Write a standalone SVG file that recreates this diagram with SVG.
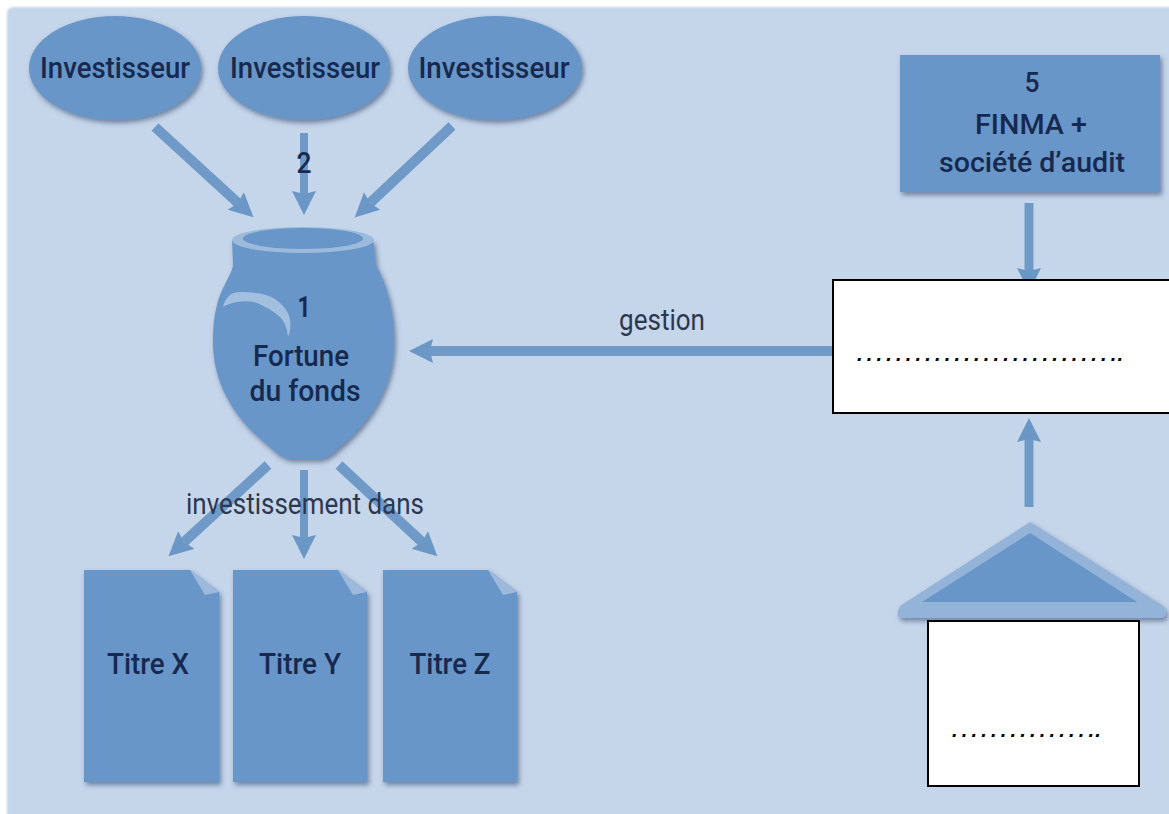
<svg xmlns="http://www.w3.org/2000/svg" width="1169" height="814" viewBox="0 0 1169 814">
<style>
.n{fill:#6896c8}
.t{font-family:Roboto,"Liberation Sans",Arial,sans-serif;font-weight:500;fill:#17294f;text-anchor:middle}
.r{font-family:Roboto,"Liberation Sans",Arial,sans-serif;fill:#2b3850;text-anchor:middle}
.c{stroke:#6f9ac8;stroke-width:10;fill:none}
.h{fill:#6b97c7}
.w{fill:#fff;stroke:#000;stroke-width:2}
.d{font-family:"Liberation Sans",Arial,sans-serif;font-style:italic;font-weight:700;font-size:20px;fill:#000;letter-spacing:4.2px}
</style>
<defs>
<filter id="s" x="-15%" y="-15%" width="130%" height="130%"><feDropShadow dx="2" dy="3" stdDeviation="2.5" flood-color="#3d5478" flood-opacity=".65"/></filter>
<filter id="b" x="-5%" y="-5%" width="110%" height="110%"><feGaussianBlur stdDeviation=".8"/></filter>
<marker id="a" markerUnits="userSpaceOnUse" markerWidth="30" markerHeight="30" refX="3" refY="12" orient="auto"><path class="h" d="M0 0L24 12L0 24L3 12Z"/></marker>
</defs>
<rect width="1169" height="814" fill="#fff"/>
<rect x="7" y="7" width="1170" height="815" rx="6" fill="#c5d5ea" filter="url(#b)"/>
<g id="connectors">
<path class="c" marker-end="url(#a)" d="M155 127L238 203"/>
<path class="c" marker-end="url(#a)" style="stroke-width:8" d="M304 133V194"/>
<path class="c" marker-end="url(#a)" d="M452 126L370 203"/>
<path class="c" marker-end="url(#a)" d="M832 351H430"/>
<path class="c" marker-end="url(#a)" d="M268 465L184 542"/>
<path class="c" marker-end="url(#a)" style="stroke-width:8" d="M304 470V538"/>
<path class="c" marker-end="url(#a)" d="M339 465L422 542"/>
<path class="c" marker-end="url(#a)" style="stroke-width:9" d="M1029 203V271"/>
<path class="c" marker-end="url(#a)" style="stroke-width:9" d="M1029 507V439"/>
</g>
<g id="investisseur-1"><ellipse class="n" cx="115" cy="68" rx="86" ry="52" filter="url(#s)"/><text class="t" x="115" y="78" font-size="30" textLength="150" lengthAdjust="spacingAndGlyphs">Investisseur</text></g>
<g id="investisseur-2"><ellipse class="n" cx="304" cy="68" rx="86" ry="52" filter="url(#s)"/><text class="t" x="305" y="78" font-size="30" textLength="150" lengthAdjust="spacingAndGlyphs">Investisseur</text></g>
<g id="investisseur-3"><ellipse class="n" cx="495" cy="68" rx="87" ry="52" filter="url(#s)"/><text class="t" x="494" y="78" font-size="30" textLength="151" lengthAdjust="spacingAndGlyphs">Investisseur</text></g>
<text class="t" x="304" y="173" font-size="30" textLength="15" lengthAdjust="spacingAndGlyphs">2</text>
<g id="fortune">
<path class="n" filter="url(#s)" d="M232 240L233 263C234 272 222 285 217 305C213 320 213 335 213 345C214 385 235 420 270 447C278 455 284 459 292 459H318C328 459 334 452 342 445C372 420 393 385 394 345C395 315 388 290 380 273C376 266 375 262 375 255L373 240Z"/>
<ellipse cx="303" cy="240" rx="71" ry="13" fill="#9dbadc"/>
<ellipse cx="303" cy="238.500" rx="60" ry="10.500" fill="#6896c8"/>
<path d="M223 307C226 296 232 292 240 292C255 292 267 294 273 298C283 304 289 312 290 320C291 327 290 332 288 337C287 328 285 322 280 317C272 310 264 306 257 303C250 301 243 301 237 302C231 303 226 305 223 307Z" fill="#a3bfdf"/>
<text class="t" x="304" y="317" font-size="30" textLength="13" lengthAdjust="spacingAndGlyphs" font-weight="700" style="font-weight:700">1</text>
<text class="t" x="301" y="366" font-size="30" textLength="96" lengthAdjust="spacingAndGlyphs">Fortune</text>
<text class="t" x="305" y="401" font-size="30" textLength="111" lengthAdjust="spacingAndGlyphs">du fonds</text>
</g>
<text class="r" x="305" y="514" font-size="30" textLength="238" lengthAdjust="spacingAndGlyphs">investissement dans</text>
<text class="r" x="662" y="330" font-size="30" textLength="86" lengthAdjust="spacingAndGlyphs">gestion</text>
<g id="titre-x"><path class="n" filter="url(#s)" d="M84 570H190L219 592V782H84Z"/><path d="M190 570L219 592L205 595Z" fill="#9dbadc"/><text class="t" x="148" y="674" font-size="30" textLength="82" lengthAdjust="spacingAndGlyphs">Titre X</text></g>
<g id="titre-y"><path class="n" filter="url(#s)" d="M233 570H338L367 592V782H233Z"/><path d="M338 570L367 592L353 595Z" fill="#9dbadc"/><text class="t" x="300" y="674" font-size="30" textLength="82" lengthAdjust="spacingAndGlyphs">Titre Y</text></g>
<g id="titre-z"><path class="n" filter="url(#s)" d="M383 570H488L517 592V782H383Z"/><path d="M488 570L517 592L503 595Z" fill="#9dbadc"/><text class="t" x="450" y="674" font-size="30" textLength="81" lengthAdjust="spacingAndGlyphs">Titre Z</text></g>
<g id="finma"><rect class="n" x="900" y="55" width="260" height="137" filter="url(#s)"/>
<text class="t" x="1032" y="92" font-size="28" textLength="15" lengthAdjust="spacingAndGlyphs">5</text>
<text class="t" x="1031" y="134" font-size="28" textLength="112" lengthAdjust="spacingAndGlyphs">FINMA +</text>
<text class="t" x="1032" y="172" font-size="28" textLength="186" lengthAdjust="spacingAndGlyphs">société d’audit</text></g>
<g id="gestionnaire"><rect class="w" x="833" y="280" width="340" height="133"/>
<text class="d" x="857" y="361">..........................<tspan letter-spacing="1.2px">..</tspan></text></g>
<g id="banque">
<path d="M1030 522L1163 606Q1170 618 1160 618H903Q894 618 900 606Z" fill="#93b3d9" filter="url(#s)"/>
<path d="M1030 533L1137 602H922Z" fill="#6896c8"/>
<rect class="w" x="928" y="621" width="211" height="165"/>
<text class="d" x="952" y="737">..............<tspan letter-spacing="1.2px">..</tspan></text></g>
</svg>
